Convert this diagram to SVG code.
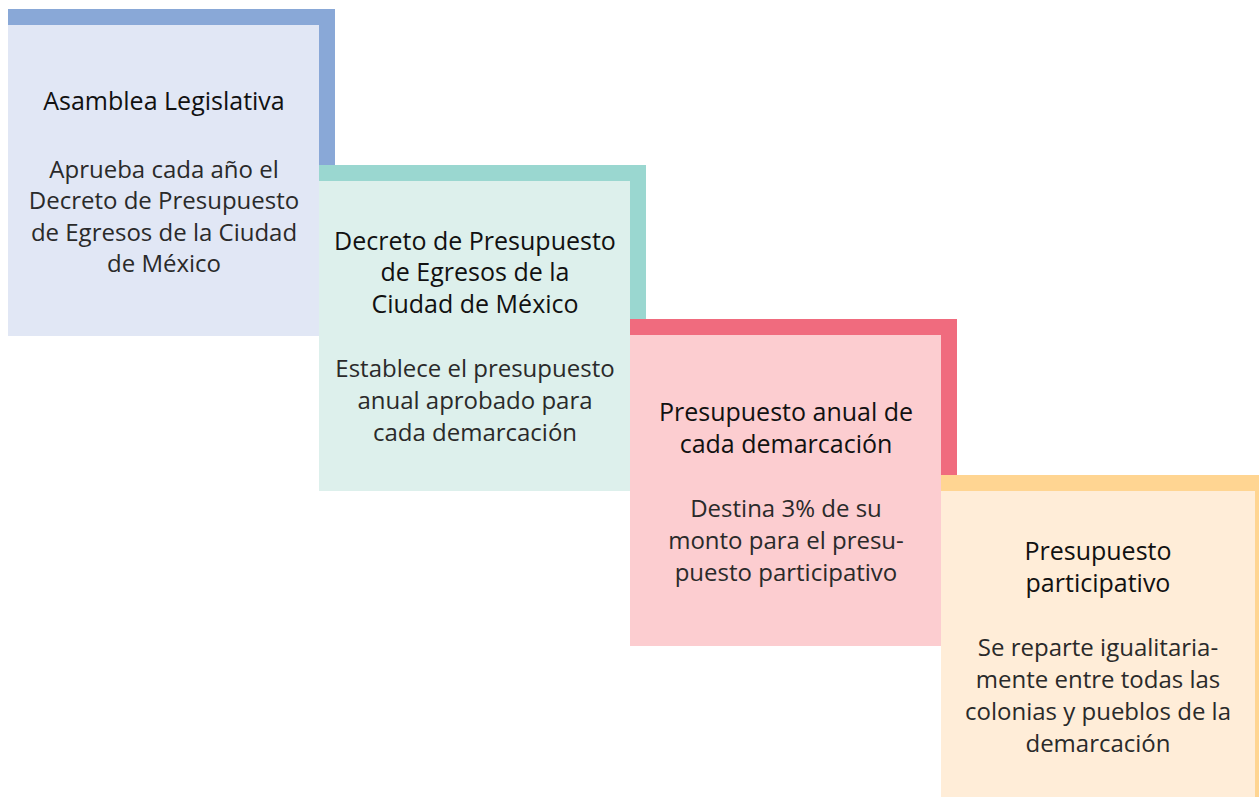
<svg xmlns="http://www.w3.org/2000/svg" width="1259" height="797" viewBox="0 0 1259 797">
<style>
text{font-family:"Open Sans","Noto Sans","Liberation Sans",sans-serif;text-anchor:middle}
.t{fill:#111;font-size:25px;font-weight:500}
.b{fill:#2a2a2a;font-size:24px}
</style>
<rect width="1259" height="797" fill="#fff"/>
<g id="n1">
<rect x="8" y="9" width="327" height="327" fill="#89a8d7"/>
<rect x="8" y="25" width="311" height="311" fill="#e1e7f5"/>
<text class="t" x="164" y="110">Asamblea Legislativa</text>
<text class="b" x="164" y="178">Aprueba cada año el</text>
<text class="b" x="164" y="209">Decreto de Presupuesto</text>
<text class="b" x="164" y="241">de Egresos de la Ciudad</text>
<text class="b" x="164" y="272">de México</text>
</g>
<g id="n2">
<rect x="319" y="165" width="327" height="326" fill="#9ad7d0"/>
<rect x="319" y="181" width="311" height="310" fill="#ddf0ec"/>
<text class="t" x="475" y="250">Decreto de Presupuesto</text>
<text class="t" x="475" y="281">de Egresos de la</text>
<text class="t" x="475" y="313">Ciudad de México</text>
<text class="b" x="475" y="377">Establece el presupuesto</text>
<text class="b" x="475" y="409">anual aprobado para</text>
<text class="b" x="475" y="441">cada demarcación</text>
</g>
<g id="n3">
<rect x="630" y="319" width="327" height="327" fill="#f06b7e"/>
<rect x="630" y="335" width="311" height="311" fill="#fccdd0"/>
<text class="t" x="786" y="421">Presupuesto anual de</text>
<text class="t" x="786" y="453">cada demarcación</text>
<text class="b" x="786" y="517">Destina 3% de su</text>
<text class="b" x="786" y="549">monto para el presu-</text>
<text class="b" x="786" y="581">puesto participativo</text>
</g>
<g id="n4">
<rect x="941" y="475" width="318" height="322" fill="#ffd592"/>
<rect x="941" y="491" width="314" height="306" fill="#ffedd8"/>
<text class="t" x="1098" y="560">Presupuesto</text>
<text class="t" x="1098" y="592">participativo</text>
<text class="b" x="1098" y="656">Se reparte igualitaria-</text>
<text class="b" x="1098" y="688">mente entre todas las</text>
<text class="b" x="1098" y="720">colonias y pueblos de la</text>
<text class="b" x="1098" y="752">demarcación</text>
</g>
<g id="connectors"></g>
</svg>
